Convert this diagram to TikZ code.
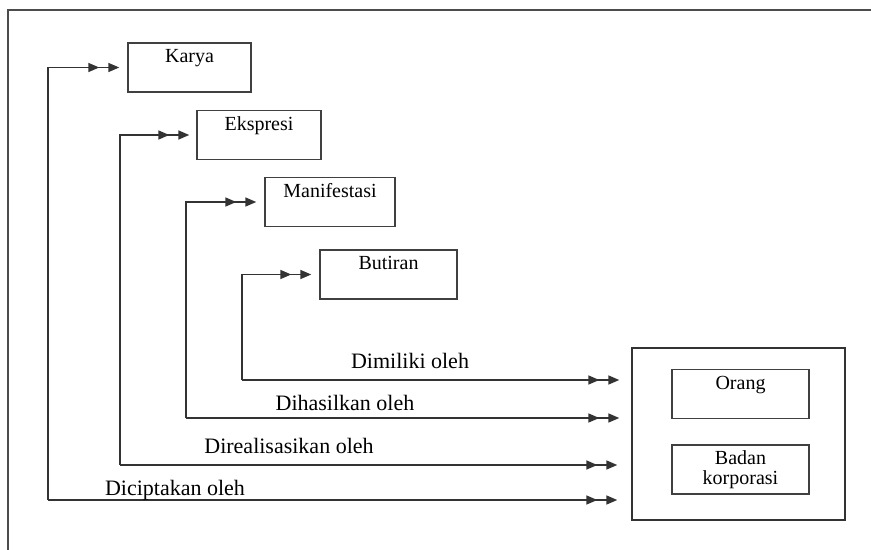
\documentclass[tikz,border=0pt]{standalone}
\usepackage{fontspec}
\setmainfont{Liberation Serif}
\usetikzlibrary{positioning,calc,arrows.meta,decorations.markings}
\tikzset{
  bx/.style={rectangle, draw=black!75, line width=0.7pt, text height=8pt, text depth=12.5pt, inner ysep=2pt, inner xsep=0pt, font=\rmfamily\fontsize{10}{10}\selectfont},
  bxx/.style={rectangle, draw=black!75, line width=0.7pt, minimum height=24.5pt, align=center, inner sep=0pt, font=\rmfamily\fontsize{10}{10}\selectfont},
  ag/.style={rectangle, draw=black!80, line width=0.7pt, minimum width=106.5pt, minimum height=86pt},
  lb/.style={anchor=base, inner sep=0pt, font=\rmfamily\fontsize{11}{13}\selectfont},
  dar/.style={draw=black!80, line width=0.75pt, -{Triangle[length=5.5pt,width=4.5pt]}, postaction={decorate},
    decoration={markings, mark=at position -10pt with {\arrow{Triangle[length=5.5pt,width=4.5pt]}}}}
}
\begin{document}
\begin{tikzpicture}[x=0.5pt,y=-0.5pt]
	\useasboundingbox (0,0) rectangle (871,550);
	\draw[black!70, line width=0.7pt] (8,550) -- (8,10) -- (871,10);
	%
	\node[bx, minimum width=61.5pt] (karya) at (189.5,67.5) {Karya};
	\node[bx, minimum width=62pt] (ekspresi) at (259,135) {Ekspresi};
	\node[bx, minimum width=65pt] (manif) at (330,202) {Manifestasi};
	\node[bx, minimum width=68.5pt] (butiran) at (388.5,274.5) {Butiran};
	%
	\node[ag] (agen) at (738.5,434) {};
	\node[bx, minimum width=68.5pt] (orang) at (740.5,394) {Orang};
	\node[bxx, minimum width=68.5pt, below=12.5pt of orang] (badan) {Badan\\korporasi};
	%
	\coordinate (c1) at (48,500);
	\coordinate (c2) at (120,465);
	\coordinate (c3) at (186,418);
	\coordinate (c4) at (242,380);
	%
	\draw[dar] (c1) |- ($(karya.west)+(-4pt,0)$);
	\draw[dar] (c2) |- ($(ekspresi.west)+(-3.5pt,0)$);
	\draw[dar] (c3) |- ($(manif.west)+(-4pt,0)$);
	\draw[dar] (c4) |- ($(butiran.west)+(-4pt,0)$);
	%
	\draw[dar] (c4) -- ($(c4 -| agen.west)+(-6pt,0)$);
	\draw[dar] (c3) -- ($(c3 -| agen.west)+(-6pt,0)$);
	\draw[dar] (c2) -- ($(c2 -| agen.west)+(-7pt,0)$);
	\draw[dar] (c1) -- ($(c1 -| agen.west)+(-7pt,0)$);
	%
	\node[lb] (l4) at (410,368) {Dimiliki oleh};
	\node[lb] (l3) at (345,410) {Dihasilkan oleh};
	\node[lb] (l2) at (289,453) {Direalisasikan oleh};
	\node[lb] (l1) at (175,495) {Diciptakan oleh};
\end{tikzpicture}
\end{document}
